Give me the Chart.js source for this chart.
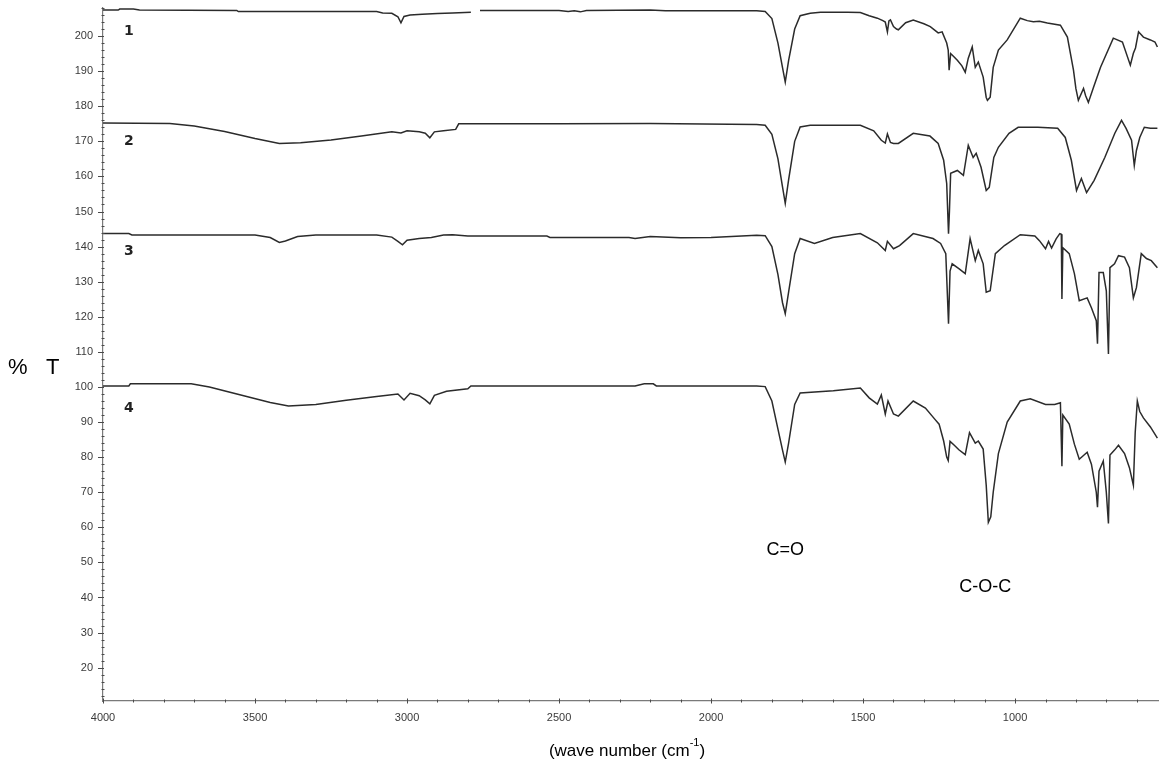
<!DOCTYPE html>
<html>
<head>
<meta charset="utf-8">
<script src="https://cdn.jsdelivr.net/npm/chart.js@4.4.1/dist/chart.umd.min.js"></script>
<style>
  html, body { margin: 0; padding: 0; background: #ffffff; }
  #wrap { width: 1167px; height: 778px; position: relative; }
</style>
</head>
<body>
<div id="wrap"><canvas id="ir" width="1167" height="778"></canvas></div>
<script>
// FTIR spectra (% transmittance, vertically offset) vs wavenumber in cm-1

const wn1 = [4000, 3950, 3945, 3900, 3880, 3560, 3555, 3100, 3080, 3050, 3030, 3020, 3010, 2990, 2950, 2900, 2850, 2790, 2780, 2760, 2500, 2470, 2450, 2430, 2410, 2200, 2150, 1850, 1822, 1800, 1780, 1765, 1756, 1745, 1725, 1707, 1674, 1640, 1598, 1550, 1509, 1480, 1453, 1435, 1427, 1420, 1415, 1410, 1400, 1390, 1384, 1360, 1335, 1300, 1279, 1253, 1240, 1225, 1220, 1217, 1212, 1207, 1190, 1175, 1164, 1154, 1141, 1131, 1121, 1105, 1095, 1091, 1082, 1072, 1055, 1026, 983, 960, 940, 920, 894, 851, 828, 808, 800, 792, 775, 768, 759, 742, 719, 677, 647, 621, 611, 604, 594, 578, 555, 540, 532];
const t1  = [207.4, 207.4, 207.7, 207.7, 207.4, 207.3, 207.0, 207.0, 206.6, 206.5, 205.5, 203.8, 205.6, 206.0, 206.2, 206.4, 206.6, 206.8, null, 207.3, 207.3, 207.0, 207.2, 206.9, 207.3, 207.4, 207.2, 207.2, 207.0, 205.0, 198.0, 191.0, 186.9, 193.0, 202.0, 205.8, 206.5, 206.8, 206.8, 206.8, 206.7, 205.8, 205.1, 204.4, 204.0, 201.2, 204.3, 204.6, 202.7, 202.0, 201.8, 203.8, 204.6, 203.5, 202.7, 200.9, 201.2, 198.0, 196.0, 190.3, 195.0, 194.6, 193.1, 191.5, 189.7, 193.7, 196.9, 191.1, 192.6, 188.3, 182.5, 181.7, 182.6, 191.1, 196.0, 198.9, 205.1, 204.4, 204.1, 204.2, 203.7, 203.1, 199.7, 190.3, 185.0, 181.7, 185.1, 183.0, 181.1, 185.4, 191.1, 199.4, 198.3, 191.7, 195.1, 196.6, 201.2, 199.7, 198.9, 198.3, 196.9];

const wn2 = [4000, 3780, 3700, 3600, 3500, 3420, 3350, 3250, 3150, 3050, 3020, 3000, 2960, 2940, 2925, 2910, 2880, 2840, 2830, 2500, 2200, 1850, 1822, 1800, 1780, 1765, 1756, 1745, 1725, 1707, 1674, 1598, 1509, 1465, 1440, 1427, 1420, 1410, 1400, 1384, 1335, 1280, 1253, 1235, 1225, 1219, 1216, 1212, 1190, 1170, 1154, 1138, 1128, 1112, 1095, 1085, 1070, 1055, 1020, 990, 925, 860, 835, 815, 798, 782, 765, 740, 705, 672, 650, 635, 617, 608, 601, 590, 575, 555, 532];
const t2  = [175.2, 175.1, 174.4, 172.8, 170.8, 169.4, 169.6, 170.4, 171.5, 172.7, 172.4, 173.0, 172.7, 172.3, 171.0, 172.7, 173.0, 173.4, 175.0, 175.0, 175.1, 174.8, 174.6, 172.0, 165.0, 157.0, 152.3, 159.0, 170.0, 174.1, 174.6, 174.6, 174.6, 173.0, 170.3, 169.5, 172.1, 169.7, 169.4, 169.4, 172.3, 171.5, 169.4, 164.6, 158.0, 143.7, 150.0, 160.9, 161.7, 160.3, 168.9, 165.4, 166.6, 162.6, 156.0, 156.9, 165.4, 168.3, 172.3, 174.0, 174.0, 173.7, 171.1, 164.6, 156.0, 159.4, 155.4, 158.9, 165.4, 172.3, 176.0, 173.7, 170.3, 163.1, 167.4, 171.1, 174.0, 173.7, 173.7];

const wn3 = [4000, 3915, 3905, 3500, 3450, 3420, 3400, 3360, 3300, 3100, 3050, 3030, 3015, 3000, 2960, 2920, 2880, 2850, 2800, 2540, 2530, 2270, 2250, 2200, 2100, 2000, 1850, 1822, 1800, 1780, 1765, 1756, 1745, 1725, 1707, 1660, 1600, 1509, 1453, 1427, 1420, 1400, 1380, 1335, 1270, 1245, 1228, 1219, 1214, 1207, 1185, 1164, 1148, 1131, 1121, 1105, 1095, 1082, 1065, 1035, 983, 935, 920, 900, 890, 880, 865, 853, 848, 846, 843, 822, 805, 789, 763, 749, 733, 729, 724, 710, 700, 693, 688, 673, 660, 640, 624, 611, 601, 585, 568, 552, 532];
const t3  = [143.7, 143.7, 143.3, 143.3, 142.6, 141.2, 141.6, 142.9, 143.3, 143.3, 142.7, 141.5, 140.5, 141.8, 142.3, 142.6, 143.3, 143.4, 143.0, 143.0, 142.6, 142.6, 142.3, 142.9, 142.5, 142.6, 143.2, 143.1, 140.0, 132.0, 124.0, 120.9, 127.0, 138.0, 142.3, 140.9, 142.6, 143.7, 141.1, 138.9, 141.5, 139.4, 140.3, 143.7, 142.3, 140.9, 138.0, 118.0, 133.0, 135.1, 133.7, 132.3, 142.3, 136.0, 138.9, 135.1, 127.0, 127.4, 138.0, 140.3, 143.4, 143.0, 141.7, 139.4, 141.5, 139.6, 142.2, 143.7, 143.5, 125.1, 139.7, 138.0, 132.3, 124.6, 125.4, 122.6, 118.9, 112.3, 132.6, 132.6, 127.4, 109.4, 134.0, 135.1, 137.4, 137.0, 134.0, 125.4, 128.3, 138.0, 136.6, 136.0, 134.0];

const wn4 = [4000, 3915, 3910, 3710, 3650, 3550, 3450, 3390, 3300, 3200, 3100, 3030, 3010, 2990, 2960, 2940, 2925, 2910, 2870, 2800, 2790, 2250, 2220, 2190, 2180, 1850, 1822, 1800, 1780, 1765, 1756, 1745, 1725, 1707, 1598, 1509, 1480, 1453, 1440, 1427, 1418, 1400, 1384, 1335, 1295, 1265, 1250, 1235, 1225, 1220, 1214, 1200, 1185, 1164, 1150, 1131, 1121, 1105, 1095, 1088, 1080, 1072, 1055, 1026, 983, 950, 900, 870, 851, 846, 843, 822, 805, 789, 763, 749, 733, 729, 724, 710, 700, 693, 688, 673, 660, 640, 624, 611, 605, 598, 590, 578, 555, 532];
const t4  = [100.3, 100.3, 100.9, 100.9, 100.0, 97.8, 95.6, 94.6, 95.0, 96.2, 97.3, 98.0, 96.3, 98.2, 97.5, 96.3, 95.2, 97.6, 98.8, 99.5, 100.3, 100.3, 100.9, 100.9, 100.3, 100.3, 100.1, 96.0, 88.0, 82.0, 78.6, 84.0, 95.0, 98.3, 98.9, 99.7, 96.9, 95.1, 97.7, 92.3, 96.0, 92.3, 91.7, 96.0, 94.0, 90.9, 89.4, 84.6, 80.0, 79.0, 84.5, 83.4, 82.1, 80.7, 87.0, 84.0, 84.6, 82.3, 72.0, 61.4, 63.0, 70.0, 81.0, 90.0, 96.0, 96.6, 95.0, 95.0, 95.5, 77.4, 92.0, 89.4, 83.7, 79.4, 81.4, 78.0, 70.0, 65.7, 76.0, 78.9, 70.0, 61.1, 80.6, 82.0, 83.4, 81.0, 77.0, 72.0, 87.0, 96.0, 93.0, 91.2, 88.6, 85.4];

const xTickValues = [4000, 3500, 3000, 2500, 2000, 1500, 1000];
const yTickValues = [20, 30, 40, 50, 60, 70, 80, 90, 100, 110, 120, 130, 140, 150, 160, 170, 180, 190, 200];
const curveNames = ['1', '2', '3', '4'];
const curveNameT = [201.4, 170.0, 138.6, 94.0];
const curveNameWn = 3915;
const bandLabels = ['C=O', 'C-O-C'];
const bandWn = [1756, 1098];
const bandT = [53.4, 43.1];

const X_MIN = 530, X_MAX = 4000, Y_MIN = 10.5, Y_MAX = 208;
const LINE = '#2b2b2b';
const AXIS = '#7a7a7a';
const TICK_TXT = '#3a3a3a';
const FONT = '"Liberation Sans", Arial, sans-serif';

function pts(wn, t) { return wn.map((w, i) => ({ x: w, y: t[i] })); }

// minor / major tick marks crossing the axes
const axisTicks = {
  id: 'axisTicks',
  afterDraw(chart) {
    const { ctx, chartArea: a, scales: { x, y } } = chart;
    ctx.save();
    ctx.strokeStyle = '#4a4a4a';
    ctx.lineWidth = 1;
    for (let v = 12; v <= Y_MAX; v += 2) {
      const py = Math.round(y.getPixelForValue(v)) + 0.5;
      const major = yTickValues.includes(v);
      ctx.beginPath();
      ctx.moveTo(a.left - (major ? 5 : 1.5), py);
      ctx.lineTo(a.left + (major ? 1 : 1.5), py);
      ctx.stroke();
    }
    for (let v = 600; v <= X_MAX; v += 100) {
      const px = Math.round(x.getPixelForValue(v)) + 0.5;
      const major = xTickValues.includes(v);
      ctx.beginPath();
      ctx.moveTo(px, a.bottom - (major ? 2.5 : 1.5));
      ctx.lineTo(px, a.bottom + (major ? 2.5 : 1.5));
      ctx.stroke();
    }
    ctx.restore();
  }
};

// axis titles, band assignments and curve numbers
const textLayer = {
  id: 'textLayer',
  afterDraw(chart) {
    const { ctx, scales: { x, y } } = chart;
    ctx.save();
    ctx.fillStyle = '#000';
    ctx.textBaseline = 'middle';

    // y title
    ctx.font = '22px ' + FONT;
    ctx.textAlign = 'left';
    ctx.fillText('%   T', 8, 368);

    // x title with superscript
    const main1 = '(wave number (cm';
    const sup = '-1';
    const main2 = ')';
    ctx.font = '17px ' + FONT;
    const w1 = ctx.measureText(main1).width;
    const w3 = ctx.measureText(main2).width;
    ctx.font = '11px ' + FONT;
    const w2 = ctx.measureText(sup).width;
    const total = w1 + w2 + w3;
    const sx = 627 - total / 2;
    const ty = 751;
    ctx.font = '17px ' + FONT;
    ctx.fillText(main1, sx, ty);
    ctx.font = '11px ' + FONT;
    ctx.fillText(sup, sx + w1, ty - 8);
    ctx.font = '17px ' + FONT;
    ctx.fillText(main2, sx + w1 + w2, ty);

    // band assignments
    ctx.textAlign = 'center';
    ctx.font = '18px ' + FONT;
    bandLabels.forEach((s, i) => {
      ctx.fillText(s, x.getPixelForValue(bandWn[i]), y.getPixelForValue(bandT[i]));
    });

    // curve numbers
    ctx.font = 'bold 14px "DejaVu Sans", sans-serif';
    ctx.fillStyle = '#222';
    curveNames.forEach((s, i) => {
      ctx.fillText(s, x.getPixelForValue(curveNameWn), y.getPixelForValue(curveNameT[i]));
    });
    ctx.restore();
  }
};

const ds = (wn, t) => ({
  data: pts(wn, t),
  borderColor: LINE,
  borderWidth: 1.5,
  pointRadius: 0,
  tension: 0,
  spanGaps: false,
  fill: false
});

new Chart(document.getElementById('ir'), {
  type: 'line',
  data: { datasets: [ds(wn1, t1), ds(wn2, t2), ds(wn3, t3), ds(wn4, t4)] },
  options: {
    responsive: false,
    animation: false,
    devicePixelRatio: 1,
    events: [],
    layout: { padding: { top: 8, right: 9, left: 0, bottom: 0 } },
    plugins: { legend: { display: false }, tooltip: { enabled: false }, title: { display: false } },
    scales: {
      x: {
        type: 'linear',
        reverse: true,
        min: X_MIN,
        max: X_MAX,
        afterBuildTicks: s => { s.ticks = xTickValues.map(v => ({ value: v })); },
        afterFit: s => { s.height = 77; s.paddingLeft = 0; s.paddingRight = 0; },
        grid: { display: false, drawTicks: false },
        border: { display: true, color: AXIS, width: 1.2 },
        ticks: { color: TICK_TXT, font: { family: FONT, size: 11 }, padding: 10, maxRotation: 0, autoSkip: false,
                 callback: v => String(v) }
      },
      y: {
        type: 'linear',
        min: Y_MIN,
        max: Y_MAX,
        afterBuildTicks: s => { s.ticks = yTickValues.map(v => ({ value: v })); },
        afterFit: s => { s.width = 103; s.paddingTop = 0; s.paddingBottom = 0; },
        grid: { display: false, drawTicks: false },
        border: { display: true, color: AXIS, width: 1.2 },
        ticks: { color: TICK_TXT, font: { family: FONT, size: 11 }, padding: 10, autoSkip: false,
                 callback: v => String(v) }
      }
    }
  },
  plugins: [axisTicks, textLayer]
});
</script>
</body>
</html>
